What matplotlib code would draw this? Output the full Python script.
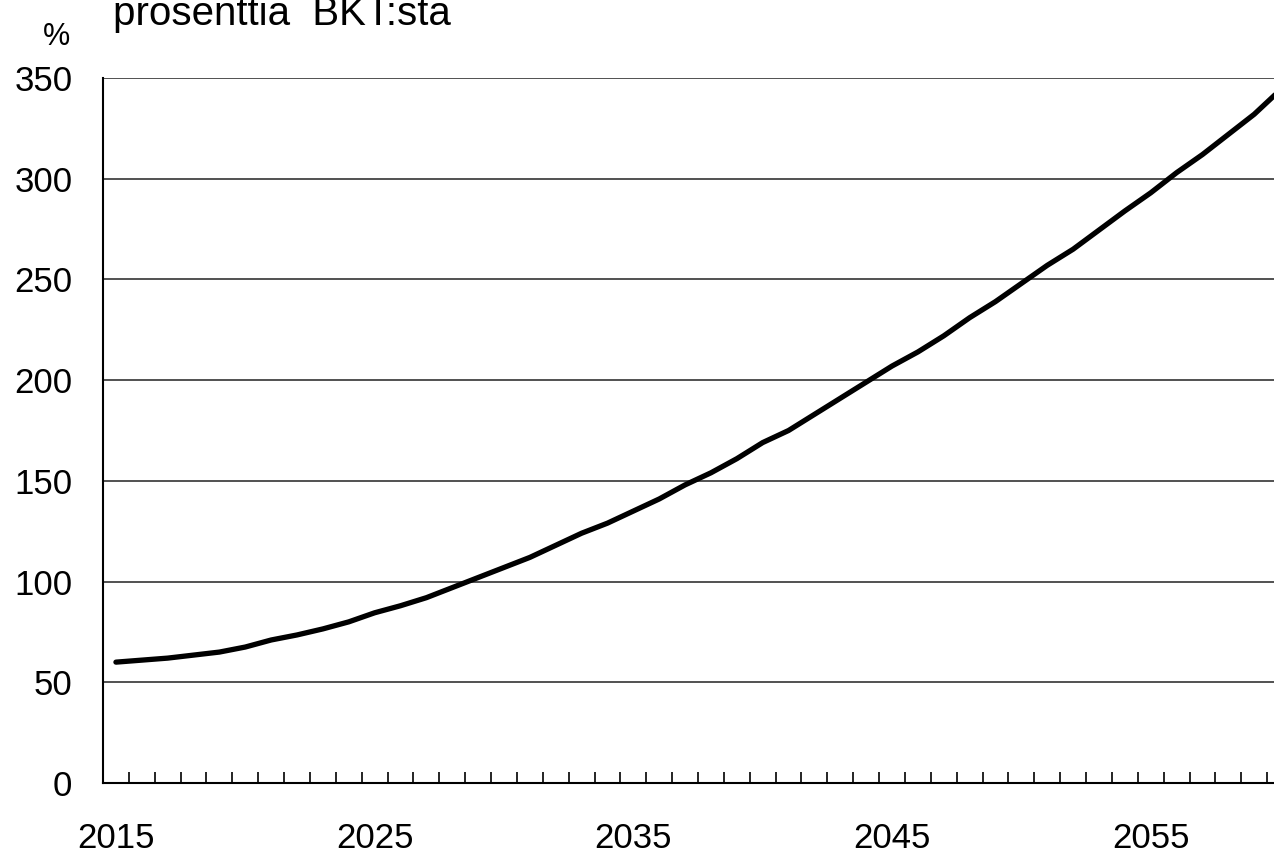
import matplotlib
matplotlib.use("Agg")
import matplotlib.pyplot as plt
from matplotlib.ticker import FixedLocator, NullFormatter

plt.rcParams['font.family'] = ['Liberation Sans', 'DejaVu Sans']

years = list(range(2015, 2061))
debt = [60, 61, 62, 63.5, 65, 67.5, 71, 73.5, 76.5, 80,
        84.5, 88, 92, 97, 102, 107, 112, 118, 124, 129,
        135, 141, 148, 154, 161, 169, 175, 183, 191, 199,
        207, 214, 222, 231, 239, 248, 257, 265, 274.5, 284,
        293, 303, 312, 322, 332, 344]
y_ticks = [0, 50, 100, 150, 200, 250, 300, 350]
x_labels = ['2015', '2025', '2035', '2045', '2055']
title = 'prosenttia  BKT:sta'
unit = '%'

W, H = 1274, 855
fig = plt.figure(figsize=(W / 100, H / 100), dpi=100)
ax = fig.add_axes([103 / W, (H - 783) / H, 46 * 25.87 / W, (783 - 78) / H])

idx = list(range(len(years)))
ax.plot(idx, debt, color='black', lw=3.8, solid_capstyle='round',
        solid_joinstyle='round', zorder=3)

ax.set_xlim(-0.5, len(years) - 0.5)
ax.set_ylim(0, 350)
ax.set_yticks(y_ticks)
ax.set_yticklabels([str(v) for v in y_ticks])
for v in y_ticks[1:]:
    ax.axhline(v, color='#222222', lw=1.1, zorder=1)

label_pos = [years.index(int(s)) for s in x_labels]
ax.set_xticks(label_pos)
ax.set_xticklabels(x_labels)
ax.xaxis.set_minor_locator(FixedLocator([i - 0.5 for i in range(len(years) + 1)]))
ax.xaxis.set_minor_formatter(NullFormatter())
ax.tick_params(axis='x', which='major', length=0, pad=28, labelsize=25)
ax.tick_params(axis='x', which='minor', direction='in', length=8, width=1.2, color='black')
ax.tick_params(axis='y', length=0, pad=22, labelsize=25)

for s in ['top', 'right']:
    ax.spines[s].set_visible(False)
for s in ['left', 'bottom']:
    ax.spines[s].set_linewidth(1.5)
    ax.spines[s].set_color('black')

fig.text(113 / W, 1 - 25 / H, title, fontsize=29, ha='left', va='baseline')
fig.text(57 / W, 1 - 45 / H, unit, fontsize=22, ha='center', va='baseline')

fig.savefig('out.png', dpi=100)
